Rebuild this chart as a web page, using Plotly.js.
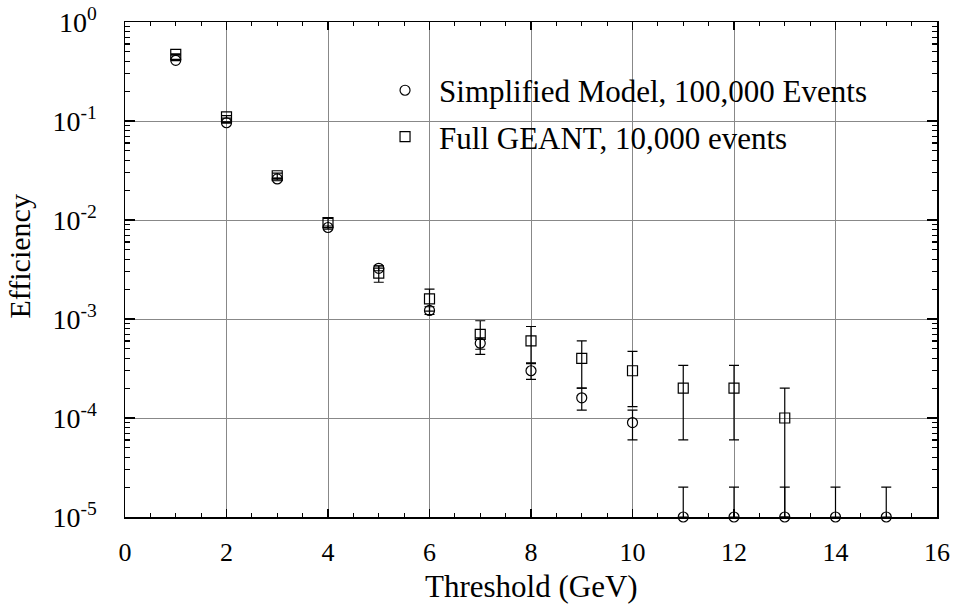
<!DOCTYPE html>
<html>
<head>
<meta charset="utf-8">
<script src="https://cdn.plot.ly/plotly-3.0.1.min.js"></script>
<style>
  html, body { margin: 0; padding: 0; background: #ffffff; }
  #chart { width: 958px; height: 605px; }
</style>
</head>
<body>
<div id="chart"></div>
<script>
// ---- data ----
var simThreshold = [1, 2, 3, 4, 5, 6, 7, 8, 9, 10, 11, 12, 13, 14, 15];
var simEfficiency = [0.41, 0.096, 0.026, 0.0084, 0.00325, 0.00122, 0.00057, 0.0003, 0.00016, 0.00009, 0.00001, 0.00001, 0.00001, 0.00001, 0.00001];
var simErrPlus = [0.002, 0.001, 0.0005, 0.0003, 0.00018, 0.00011, 0.000075, 0.000055, 0.00004, 0.00003, 0.00001, 0.00001, 0.00001, 0.00001, 0.00001];
var simErrMinus = [0.002, 0.001, 0.0005, 0.0003, 0.00018, 0.00011, 0.000075, 0.000055, 0.00004, 0.00003, 0, 0, 0, 0, 0];

var geantThreshold = [1, 2, 3, 4, 5, 6, 7, 8, 9, 10, 11, 12, 13];
var geantEfficiency = [0.47, 0.11, 0.028, 0.0094, 0.0029, 0.0016, 0.0007, 0.0006, 0.0004, 0.0003, 0.0002, 0.0002, 0.0001];
var geantErrPlus = [0.007, 0.0033, 0.0017, 0.001, 0.00055, 0.0004, 0.00026, 0.00024, 0.0002, 0.00017, 0.00014, 0.00014, 0.0001];
var geantErrMinus = [0.007, 0.0033, 0.0017, 0.001, 0.00055, 0.0004, 0.00026, 0.00024, 0.0002, 0.00017, 0.00014, 0.00014, 0.00009];

var seriesNames = ['Simplified Model, 100,000 Events', 'Full GEANT, 10,000 events'];

var yTickVals = [1, 0.1, 0.01, 0.001, 0.0001, 0.00001];
var yTickText = ['10<sup>0</sup>', '10<sup>-1</sup>', '10<sup>-2</sup>', '10<sup>-3</sup>', '10<sup>-4</sup>', '10<sup>-5</sup>'];

var xTitle = 'Threshold (GeV)';
var yTitle = 'Efficiency';

// ---- styling ----
var FONT = 'Liberation Serif, Times New Roman, serif';

var errStyle = { type: 'data', symmetric: false, color: '#000000', thickness: 1.2, width: 5 };

var traces = [
  {
    x: simThreshold, y: simEfficiency, name: seriesNames[0],
    type: 'scatter', mode: 'markers', legendgroup: 'a', cliponaxis: false,
    marker: { symbol: 'circle-open', size: 10, color: '#000000', line: { width: 1.2, color: '#000000' } },
    error_y: Object.assign({ array: simErrPlus, arrayminus: simErrMinus }, errStyle)
  },
  {
    x: geantThreshold, y: geantEfficiency, name: seriesNames[1],
    type: 'scatter', mode: 'markers', legendgroup: 'b', cliponaxis: false,
    marker: { symbol: 'square-open', size: 10, color: '#000000', line: { width: 1.2, color: '#000000' } },
    error_y: Object.assign({ array: geantErrPlus, arrayminus: geantErrMinus }, errStyle)
  }
];

var layout = {
  width: 958, height: 605,
  margin: { l: 125, r: 21, t: 22, b: 88, pad: 0 },
  paper_bgcolor: '#ffffff', plot_bgcolor: '#ffffff',
  font: { family: FONT, color: '#000000', size: 26 },
  showlegend: true,
  legend: {
    x: 0.303, y: 0.916, xanchor: 'left', yanchor: 'top',
    bgcolor: 'rgba(0,0,0,0)', borderwidth: 0,
    font: { family: FONT, size: 31, color: '#000000' },
    itemwidth: 58, traceorder: 'grouped', tracegroupgap: 3
  },
  xaxis: {
    range: [0, 16], tickmode: 'linear', tick0: 0, dtick: 2,
    showgrid: true, gridcolor: '#888888', gridwidth: 1, zeroline: false,
    showline: true, linecolor: '#000000', linewidth: 1.5, mirror: 'ticks',
    ticks: 'inside', ticklen: 8, tickwidth: 1.2, tickcolor: '#000000',
    minor: { dtick: 0.5, ticks: 'inside', ticklen: 4, tickwidth: 1.2, tickcolor: '#000000', showgrid: false },
    tickfont: { family: FONT, size: 26, color: '#000000' },
    ticklabelstandoff: 11
  },
  yaxis: {
    type: 'log', range: [-5, 0],
    tickmode: 'array', tickvals: yTickVals, ticktext: yTickText,
    showgrid: true, gridcolor: '#888888', gridwidth: 1, zeroline: false,
    showline: true, linecolor: '#000000', linewidth: 1.5, mirror: 'ticks',
    ticks: 'inside', ticklen: 10, tickwidth: 1.2, tickcolor: '#000000',
    minor: { dtick: 'D1', ticks: 'inside', ticklen: 5, tickwidth: 1.2, tickcolor: '#000000', showgrid: false },
    tickfont: { family: FONT, size: 28, color: '#000000' },
    ticklabelstandoff: 21
  },
  annotations: [
    { text: xTitle, xref: 'paper', yref: 'paper', x: 0.5, y: -0.14, xanchor: 'center', yanchor: 'middle',
      showarrow: false, font: { family: FONT, size: 31, color: '#000000' } },
    { text: yTitle, xref: 'paper', yref: 'paper', x: -0.1295, y: 0.526, xanchor: 'center', yanchor: 'middle',
      textangle: -90, showarrow: false, font: { family: FONT, size: 30, color: '#000000' } }
  ]
};

Plotly.newPlot('chart', traces, layout, { displayModeBar: false, staticPlot: true });
</script>
</body>
</html>
